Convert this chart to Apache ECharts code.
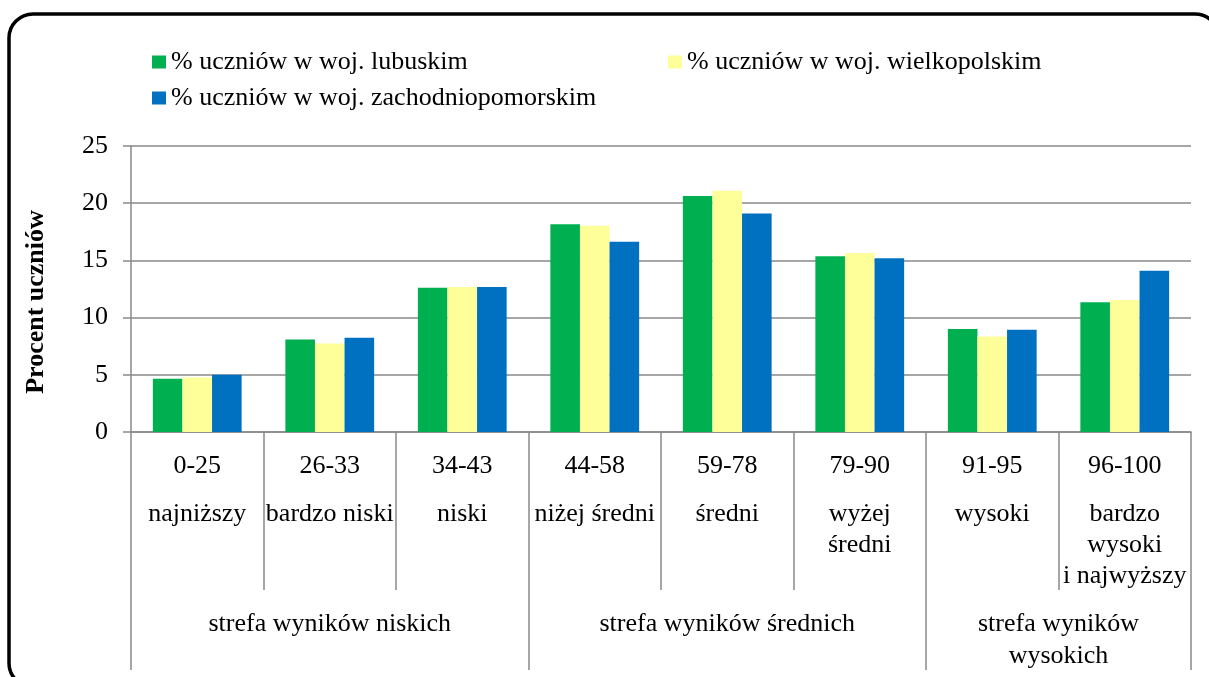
<!DOCTYPE html>
<html>
<head>
<meta charset="utf-8">
<script src="https://cdn.jsdelivr.net/npm/echarts@6/dist/echarts.min.js"></script>
<style>
  html, body { margin: 0; padding: 0; background: #fff; }
  #chart { width: 1209px; height: 677px; }
</style>
</head>
<body>
<div id="chart"></div>
<script>
// przedziały wyników i nazwy poziomów (staniny)
var ranges = ['0-25', '26-33', '34-43', '44-58', '59-78', '79-90', '91-95', '96-100'];
var levels = ['najniższy', 'bardzo niski', 'niski', 'niżej średni', 'średni', 'wyżej\nśredni', 'wysoki', 'bardzo\nwysoki\ni najwyższy'];
var zones = ['strefa wyników niskich', 'strefa wyników średnich', 'strefa wyników\nwysokich'];
var zoneBounds = [0, 3, 6, 8];
var zoneCenters = [1.5, 4.5, 7];

var lubuskie = [4.65, 8.08, 12.62, 18.15, 20.62, 15.36, 9.01, 11.34];
var wielkopolskie = [4.77, 7.73, 12.68, 18.03, 21.08, 15.65, 8.35, 11.54];
var zachodniopomorskie = [5.0, 8.23, 12.68, 16.63, 19.11, 15.18, 8.93, 14.10];

var seriesNames = ['% uczniów w woj. lubuskim', '% uczniów w woj. wielkopolskim', '% uczniów w woj. zachodniopomorskim'];
var yTicks = [0, 5, 10, 15, 20, 25];

var FONT = '"Liberation Serif", "Times New Roman", serif';
var FS = 26;
var GRAY = '#898989';

var chartDom = document.getElementById('chart');
var chart = echarts.init(chartDom);

function legendAt(name, left, top) {
    return {
        data: [name],
        left: left,
        top: top,
        itemWidth: 14,
        itemHeight: 13,
        itemGap: 0,
        icon: 'rect',
        selectedMode: false,
        textStyle: { fontFamily: FONT, fontSize: FS, color: '#000' }
    };
}

var option = {
    animation: false,
    backgroundColor: '#fff',
    color: ['#00B050', '#FFFF99', '#0070C0'],
    graphic: [{
        type: 'rect',
        shape: { x: 9, y: 14, width: 1210, height: 673, r: 24 },
        style: { fill: 'none', stroke: '#000', lineWidth: 3.5 },
        z: 100
    }],
    legend: [
        legendAt(seriesNames[0], 147, 44),
        legendAt(seriesNames[1], 663, 44),
        legendAt(seriesNames[2], 147, 80)
    ],
    grid: { left: 131, right: 18, top: 146, bottom: 245, containLabel: false },
    xAxis: [{
        type: 'category',
        data: ranges,
        position: 'bottom',
        axisLine: { lineStyle: { color: GRAY, width: 1.5 } },
        axisTick: { show: true, length: 158, lineStyle: { color: GRAY, width: 1.5 } },
        axisLabel: {
            interval: 0,
            margin: 2,
            hideOverlap: false,
            formatter: function (value, idx) {
                var lines = levels[idx].split('\n').map(function (l) { return '{n|' + l + '}'; });
                return '{r|' + value + '}\n' + lines.join('\n');
            },
            rich: {
                r: { fontFamily: FONT, fontSize: FS, color: '#000', lineHeight: 65 },
                n: { fontFamily: FONT, fontSize: FS, color: '#000', lineHeight: 31 }
            }
        }
    }, {
        type: 'value',
        min: 0,
        max: 8,
        position: 'bottom',
        axisLine: { show: false },
        splitLine: { show: false },
        axisTick: { show: true, customValues: zoneBounds, length: 238, lineStyle: { color: GRAY, width: 1.5 } },
        axisLabel: {
            customValues: zoneCenters,
            margin: 176,
            formatter: function (v) { return zones[zoneCenters.indexOf(v)]; },
            fontFamily: FONT,
            fontSize: FS,
            color: '#000',
            lineHeight: 32
        }
    }],
    yAxis: {
        type: 'value',
        min: 0,
        max: 25,
        interval: 5,
        name: 'Procent uczniów',
        nameLocation: 'middle',
        nameGap: 82,
        nameTextStyle: { fontFamily: FONT, fontSize: FS, fontWeight: 'bold', color: '#000', padding: [0, 26, 0, 0] },
        axisLine: { show: true, lineStyle: { color: GRAY, width: 1.5 } },
        axisTick: { show: true, length: 8, lineStyle: { color: GRAY, width: 1.5 } },
        axisLabel: { margin: 23, fontFamily: FONT, fontSize: FS, color: '#000',
            customValues: yTicks },
        splitLine: { show: true, lineStyle: { color: GRAY, width: 1.5 } }
    },
    series: [
        { name: seriesNames[0], type: 'bar', data: lubuskie, barGap: '0%', barCategoryGap: '33%' },
        { name: seriesNames[1], type: 'bar', data: wielkopolskie, barGap: '0%', barCategoryGap: '33%' },
        { name: seriesNames[2], type: 'bar', data: zachodniopomorskie, barGap: '0%', barCategoryGap: '33%' }
    ]
};

chart.setOption(option);
</script>
</body>
</html>
